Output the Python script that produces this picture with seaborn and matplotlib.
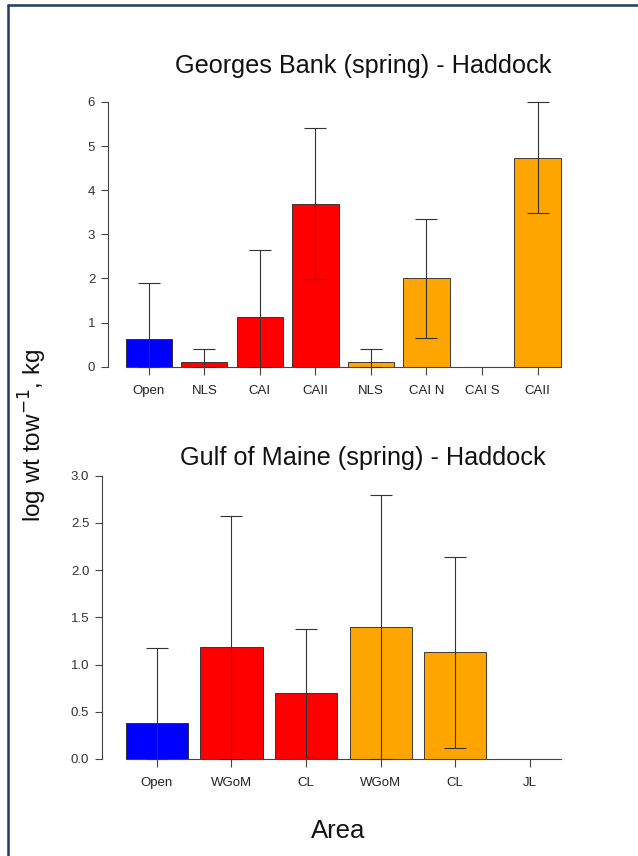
import matplotlib
matplotlib.use("Agg")
import matplotlib.pyplot as plt
import seaborn as sns
import pandas as pd
import numpy as np
from matplotlib.lines import Line2D

# ---- data ----
gb_labels = ["Open", "NLS", "CAI", "CAII", "NLS", "CAI N", "CAI S", "CAII"]
gb_values = [0.63, 0.10, 1.12, 3.69, 0.10, 2.00, 0.00, 4.74]
gb_se = [1.27, 0.31, 1.53, 1.71, 0.31, 1.34, 0.00, 1.26]
gb_groups = ["open", "closed", "closed", "closed", "new", "new", "new", "new"]

gom_labels = ["Open", "WGoM", "CL", "WGoM", "CL", "JL"]
gom_values = [0.38, 1.19, 0.70, 1.40, 1.13, 0.00]
gom_se = [0.80, 1.38, 0.68, 1.40, 1.01, 0.00]
gom_groups = ["open", "closed", "closed", "new", "new", "new"]

group_colors = {"open": "#0000FF", "closed": "#FF0000", "new": "#FFA500"}

sns.set_theme(style="white")
plt.rcParams["font.family"] = ["Liberation Sans", "DejaVu Sans"]

W, H = 638, 856
fig = plt.figure(figsize=(W / 100, H / 100), dpi=100)
fig.patch.set_facecolor("white")


def px_axes(left, top, right, bottom):
    return fig.add_axes([left / W, 1 - bottom / H, (right - left) / W, (bottom - top) / H])


def panel(ax, labels, values, se, groups, ymax, yticks, fmt):
    keys = [f"k{i}" for i in range(len(labels))]
    df = pd.DataFrame({"key": keys, "value": values,
                       "color": [group_colors[g] for g in groups]})
    pal = dict(zip(keys, df["color"]))
    sns.barplot(data=df, x="key", y="value", hue="key", palette=pal, order=keys,
                hue_order=keys, legend=False, width=0.833, saturation=1,
                edgecolor="#222222", linewidth=0.6, ax=ax)
    # error bars
    for i, (v, s) in enumerate(zip(values, se)):
        if s <= 0:
            continue
        lo = max(0.0, v - s)
        hi = v + s
        ax.errorbar([i], [v], yerr=[[v - lo], [hi - v]], fmt="none",
                    ecolor="#333333", elinewidth=0.8, capsize=8, capthick=0.8,
                    zorder=5)
    n = len(labels)
    ax.set_xlim(-0.74, n - 1 + 0.74)
    ax.set_ylim(-0.04 * ymax, ymax * 1.04)
    for sp in ["top", "right"]:
        ax.spines[sp].set_visible(False)
    ax.spines["left"].set_bounds(0, ymax)
    ax.spines["left"].set_color("#444444")
    ax.spines["left"].set_linewidth(0.8)
    ax.spines["bottom"].set_position(("data", 0))
    ax.spines["bottom"].set_bounds(-0.4165, n - 1 + 0.4165)
    ax.spines["bottom"].set_color("#444444")
    ax.spines["bottom"].set_linewidth(0.8)
    ax.set_yticks(yticks)
    ax.set_yticklabels([fmt.format(t) for t in yticks])
    ax.set_xticks(range(n))
    ax.set_xticklabels(labels)
    ax.tick_params(axis="y", direction="out", length=5, width=0.8, color="#444444",
                   labelsize=9.5, labelcolor="#333333", pad=4, left=True)
    ax.tick_params(axis="x", direction="out", length=6, width=0.8, color="#444444",
                   labelsize=9.5, labelcolor="#222222", pad=7, bottom=True)
    ax.set_xlabel("")
    ax.set_ylabel("")
    ax.set_facecolor("none")


ax1 = px_axes(107.7, 91.4, 578.6, 377.3)
panel(ax1, gb_labels, gb_values, gb_se, gb_groups, 6, list(range(0, 7)), "{:d}")

ax2 = px_axes(101.7, 464.4, 585.0, 770.3)
panel(ax2, gom_labels, gom_values, gom_se, gom_groups, 3.0,
      [0, 0.5, 1.0, 1.5, 2.0, 2.5, 3.0], "{:.1f}")

fig.text(363 / W, 1 - 73.5 / H, "Georges Bank (spring) - Haddock", ha="center",
         va="baseline", fontsize=18.2, color="#111111")
fig.text(363 / W, 1 - 465 / H, "Gulf of Maine (spring) - Haddock", ha="center",
         va="baseline", fontsize=18.2, color="#111111")
fig.text(338 / W, 1 - 838 / H, "Area", ha="center", va="baseline", fontsize=18.5,
         color="#111111")
fig.text(33 / W, 1 - 435 / H, "log wt tow$^{-1}$, kg", ha="center", va="center",
         rotation=90, fontsize=17.5, color="#111111")

# frame lines (top and left)
fig.add_artist(Line2D([8 / W, 1], [1 - 5 / H, 1 - 5 / H], transform=fig.transFigure,
                      color="#1F3A6B", linewidth=1.8))
fig.add_artist(Line2D([8 / W, 8 / W], [0, 1 - 5 / H], transform=fig.transFigure,
                      color="#1F3A6B", linewidth=1.8))

fig.savefig("out.png", dpi=100, facecolor="white")
